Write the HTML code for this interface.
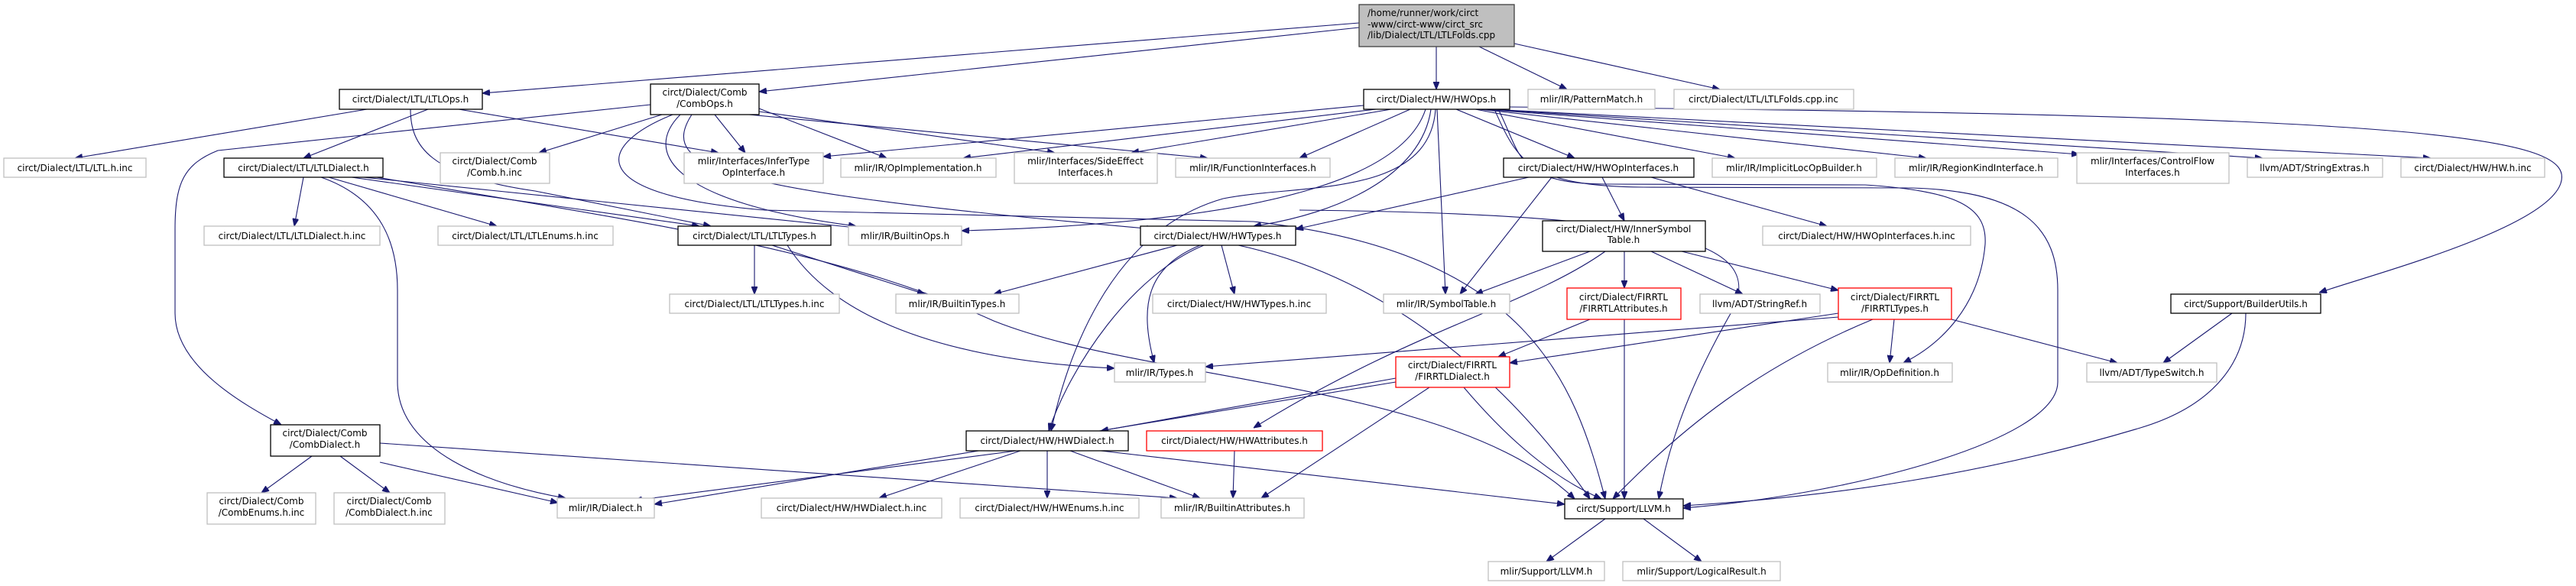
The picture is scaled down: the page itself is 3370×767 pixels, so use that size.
<!DOCTYPE html>
<html><head><meta charset="utf-8"><style>
html,body{margin:0;padding:0;background:#fff;}
svg{display:block;}
text{font-family:"DejaVu Sans","Liberation Sans",sans-serif;font-size:12px;fill:#000;}
.g{fill:#fff;stroke:#bfbfbf;stroke-width:1.3}
.b{fill:#fff;stroke:#000;stroke-width:1.3}
.r{fill:#fff;stroke:#ff0000;stroke-width:1.3}
.e{fill:none;stroke:#191970;stroke-width:1.1}
</style></head><body>
<svg width="3370" height="767" viewBox="0 0 3370 767" xmlns="http://www.w3.org/2000/svg">
<defs><marker id="a" viewBox="0 0 10 8" refX="10" refY="4" markerWidth="10" markerHeight="8" markerUnits="userSpaceOnUse" orient="auto"><path d="M0,0 L10,4 L0,8 z" fill="#191970" stroke="#191970"/></marker></defs>
<g class="e" marker-end="url(#a)">
<path d="M1778,30 L631,122"/>
<path d="M1778,36 L993,120"/>
<path d="M1879,61 L1879,117"/>
<path d="M1935,61 L2050,117"/>
<path d="M1981,57 L2250,117"/>
<path d="M480,143 L98,207"/>
<path d="M560,143 L397,207"/>
<path d="M600,143 L940,200"/>
<path d="M537,143 C537,190 560,230 700,250 L930,296"/>
<path d="M851,137 L285,197 C240,215 229,240 229,300 L229,410 C229,480 320,530 368,556"/>
<path d="M866,150 L705,200"/>
<path d="M935,150 L975,200"/>
<path d="M993,142 L1160,207"/>
<path d="M993,146 L1380,200"/>
<path d="M980,150 L1580,207"/>
<path d="M890,150 C840,200 880,265 1120,296"/>
<path d="M905,150 C860,220 940,250 1510,300"/>
<path d="M880,150 C780,190 760,255 1000,275 L1640,290 C2000,330 2060,500 2100,653"/>
<path d="M1784,138 L1077,205"/>
<path d="M1800,143 L1260,207"/>
<path d="M1820,143 L1480,200"/>
<path d="M1845,143 L1700,207"/>
<path d="M1865,143 C1840,220 1700,290 1258,302"/>
<path d="M1872,143 C1860,230 1750,280 1640,296"/>
<path d="M1878,143 C1870,260 1700,240 1600,260 C1460,300 1400,450 1375,564"/>
<path d="M1880,143 L1891,385"/>
<path d="M1905,143 L2060,207"/>
<path d="M1930,143 L2270,207"/>
<path d="M1935,143 L2520,207"/>
<path d="M1940,143 L2720,202"/>
<path d="M1945,143 L2960,207"/>
<path d="M1950,143 L3180,207"/>
<path d="M1960,143 C1990,200 1980,240 2100,241 L2440,242 C2560,250 2600,270 2597,320 C2590,400 2540,450 2490,475"/>
<path d="M1955,143 C1985,210 2000,244 2150,245 L2500,246 C2650,250 2692,300 2692,380 L2692,500 C2692,580 2400,650 2202,665"/>
<path d="M1975,140 C3200,150 3370,180 3350,240 C3330,300 3100,360 3034,383"/>
<path d="M2030,232 L1910,385"/>
<path d="M2096,232 L2125,289"/>
<path d="M2160,232 L2390,296"/>
<path d="M2000,232 L1695,300"/>
<path d="M1700,275 C2200,280 2300,320 2270,400 C2200,520 2180,600 2170,653"/>
<path d="M2080,329 L1930,385"/>
<path d="M2125,329 L2125,377"/>
<path d="M2160,329 L2280,385"/>
<path d="M2200,329 L2405,380"/>
<path d="M2100,329 C2000,400 1850,430 1640,560"/>
<path d="M1540,321 L1300,385"/>
<path d="M1598,321 L1615,385"/>
<path d="M1570,321 C1500,350 1490,400 1510,475"/>
<path d="M1575,321 C1480,360 1400,480 1372,564"/>
<path d="M1620,321 C1800,360 1960,480 2080,653"/>
<path d="M397,232 L385,296"/>
<path d="M430,232 L650,296"/>
<path d="M460,232 L915,296"/>
<path d="M420,232 C500,260 520,320 520,380 L520,500 C520,590 640,635 740,652"/>
<path d="M475,232 L1120,298"/>
<path d="M493,232 C900,300 1100,330 1300,420 C1500,500 1900,500 2060,653"/>
<path d="M987,321 L987,385"/>
<path d="M1010,321 L1210,385"/>
<path d="M1030,321 C1080,400 1200,470 1458,482"/>
<path d="M2080,418 L1960,467"/>
<path d="M2125,418 L2125,653"/>
<path d="M2405,410 L1975,475"/>
<path d="M2405,415 L1577,480"/>
<path d="M2478,418 L2472,475"/>
<path d="M2553,418 L2770,475"/>
<path d="M2450,418 C2300,480 2200,560 2110,653"/>
<path d="M1826,495 L1440,564"/>
<path d="M1826,500 L856,660"/>
<path d="M1870,507 L1650,652"/>
<path d="M1915,507 C1960,560 2020,620 2095,653"/>
<path d="M1330,590 L830,655"/>
<path d="M1335,590 L1150,652"/>
<path d="M1370,590 L1370,652"/>
<path d="M1400,590 L1570,652"/>
<path d="M1440,590 L2047,660"/>
<path d="M1615,590 L1613,652"/>
<path d="M408,597 L342,645"/>
<path d="M445,597 L510,645"/>
<path d="M497,605 L730,658"/>
<path d="M497,580 L1540,652"/>
<path d="M2100,679 L2023,735"/>
<path d="M2150,679 L2226,735"/>
<path d="M2920,410 L2830,475"/>
<path d="M2938,410 C2938,470 2900,530 2800,560 C2600,620 2400,650 2202,662"/>
</g>
<rect x="1778" y="6" width="203" height="55" fill="#bfbfbf" stroke="#404040" stroke-width="1.3"/>
<text x="1789" y="21">/home/runner/work/circt</text>
<text x="1789" y="36">-www/circt-www/circt_src</text>
<text x="1789" y="50">/lib/Dialect/LTL/LTLFolds.cpp</text>
<g text-anchor="middle">
<rect class="b" x="444" y="117" width="187" height="26"/><text x="537" y="134">circt/Dialect/LTL/LTLOps.h</text>
<rect class="b" x="851" y="110" width="142" height="40"/><text x="922" y="125">circt/Dialect/Comb</text><text x="922" y="140">/CombOps.h</text>
<rect class="b" x="1784" y="117" width="191" height="26"/><text x="1879" y="134">circt/Dialect/HW/HWOps.h</text>
<rect class="g" x="1999" y="117" width="166" height="26"/><text x="2082" y="134">mlir/IR/PatternMatch.h</text>
<rect class="g" x="2190" y="117" width="235" height="26"/><text x="2307" y="134">circt/Dialect/LTL/LTLFolds.cpp.inc</text>

<rect class="g" x="5" y="207" width="186" height="25"/><text x="98" y="224">circt/Dialect/LTL/LTL.h.inc</text>
<rect class="b" x="293" y="207" width="208" height="25"/><text x="397" y="224">circt/Dialect/LTL/LTLDialect.h</text>
<rect class="g" x="576" y="200" width="143" height="40"/><text x="647" y="215">circt/Dialect/Comb</text><text x="647" y="230">/Comb.h.inc</text>
<rect class="g" x="895" y="200" width="182" height="40"/><text x="986" y="215">mlir/Interfaces/InferType</text><text x="986" y="230">OpInterface.h</text>
<rect class="g" x="1100" y="207" width="203" height="25"/><text x="1201" y="224">mlir/IR/OpImplementation.h</text>
<rect class="g" x="1327" y="200" width="187" height="40"/><text x="1420" y="215">mlir/Interfaces/SideEffect</text><text x="1420" y="230">Interfaces.h</text>
<rect class="g" x="1538" y="207" width="202" height="25"/><text x="1639" y="224">mlir/IR/FunctionInterfaces.h</text>
<rect class="b" x="1967" y="207" width="249" height="25"/><text x="2091" y="224">circt/Dialect/HW/HWOpInterfaces.h</text>
<rect class="g" x="2240" y="207" width="215" height="25"/><text x="2347" y="224">mlir/IR/ImplicitLocOpBuilder.h</text>
<rect class="g" x="2479" y="207" width="213" height="25"/><text x="2585" y="224">mlir/IR/RegionKindInterface.h</text>
<rect class="g" x="2717" y="200" width="199" height="40"/><text x="2816" y="215">mlir/Interfaces/ControlFlow</text><text x="2816" y="230">Interfaces.h</text>
<rect class="g" x="2940" y="207" width="177" height="25"/><text x="3028" y="224">llvm/ADT/StringExtras.h</text>
<rect class="g" x="3141" y="207" width="188" height="25"/><text x="3235" y="224">circt/Dialect/HW/HW.h.inc</text>

<rect class="g" x="267" y="296" width="230" height="25"/><text x="382" y="313">circt/Dialect/LTL/LTLDialect.h.inc</text>
<rect class="g" x="573" y="296" width="229" height="25"/><text x="687" y="313">circt/Dialect/LTL/LTLEnums.h.inc</text>
<rect class="b" x="887" y="296" width="200" height="25"/><text x="987" y="313">circt/Dialect/LTL/LTLTypes.h</text>
<rect class="g" x="1110" y="296" width="148" height="25"/><text x="1184" y="313">mlir/IR/BuiltinOps.h</text>
<rect class="b" x="1492" y="296" width="203" height="25"/><text x="1593" y="313">circt/Dialect/HW/HWTypes.h</text>
<rect class="b" x="2018" y="289" width="213" height="40"/><text x="2124" y="304">circt/Dialect/HW/InnerSymbol</text><text x="2124" y="318">Table.h</text>
<rect class="g" x="2306" y="296" width="272" height="25"/><text x="2442" y="313">circt/Dialect/HW/HWOpInterfaces.h.inc</text>

<rect class="g" x="876" y="385" width="222" height="25"/><text x="987" y="402">circt/Dialect/LTL/LTLTypes.h.inc</text>
<rect class="g" x="1172" y="385" width="161" height="25"/><text x="1252" y="402">mlir/IR/BuiltinTypes.h</text>
<rect class="g" x="1508" y="385" width="227" height="25"/><text x="1621" y="402">circt/Dialect/HW/HWTypes.h.inc</text>
<rect class="g" x="1810" y="385" width="165" height="25"/><text x="1892" y="402">mlir/IR/SymbolTable.h</text>
<rect class="r" x="2050" y="377" width="149" height="41"/><text x="2124" y="393">circt/Dialect/FIRRTL</text><text x="2124" y="408">/FIRRTLAttributes.h</text>
<rect class="g" x="2224" y="385" width="157" height="25"/><text x="2302" y="402">llvm/ADT/StringRef.h</text>
<rect class="r" x="2405" y="377" width="148" height="41"/><text x="2479" y="393">circt/Dialect/FIRRTL</text><text x="2479" y="408">/FIRRTLTypes.h</text>
<rect class="b" x="2840" y="385" width="196" height="25"/><text x="2938" y="402">circt/Support/BuilderUtils.h</text>

<rect class="g" x="1458" y="475" width="119" height="25"/><text x="1517" y="492">mlir/IR/Types.h</text>
<rect class="r" x="1826" y="467" width="149" height="40"/><text x="1900" y="482">circt/Dialect/FIRRTL</text><text x="1900" y="497">/FIRRTLDialect.h</text>
<rect class="g" x="2391" y="475" width="163" height="25"/><text x="2472" y="492">mlir/IR/OpDefinition.h</text>
<rect class="g" x="2730" y="475" width="170" height="25"/><text x="2815" y="492">llvm/ADT/TypeSwitch.h</text>

<rect class="b" x="354" y="556" width="143" height="41"/><text x="425" y="571">circt/Dialect/Comb</text><text x="425" y="586">/CombDialect.h</text>
<rect class="b" x="1264" y="564" width="212" height="26"/><text x="1370" y="581">circt/Dialect/HW/HWDialect.h</text>
<rect class="r" x="1500" y="564" width="230" height="26"/><text x="1615" y="581">circt/Dialect/HW/HWAttributes.h</text>

<rect class="g" x="271" y="645" width="142" height="41"/><text x="342" y="660">circt/Dialect/Comb</text><text x="342" y="675">/CombEnums.h.inc</text>
<rect class="g" x="437" y="645" width="145" height="41"/><text x="509" y="660">circt/Dialect/Comb</text><text x="509" y="675">/CombDialect.h.inc</text>
<rect class="g" x="729" y="652" width="127" height="26"/><text x="792" y="669">mlir/IR/Dialect.h</text>
<rect class="g" x="996" y="652" width="236" height="26"/><text x="1114" y="669">circt/Dialect/HW/HWDialect.h.inc</text>
<rect class="g" x="1256" y="652" width="234" height="26"/><text x="1373" y="669">circt/Dialect/HW/HWEnums.h.inc</text>
<rect class="g" x="1519" y="652" width="187" height="26"/><text x="1612" y="669">mlir/IR/BuiltinAttributes.h</text>
<rect class="b" x="2047" y="653" width="155" height="26"/><text x="2124" y="670">circt/Support/LLVM.h</text>

<rect class="g" x="1947" y="735" width="152" height="25"/><text x="2023" y="752">mlir/Support/LLVM.h</text>
<rect class="g" x="2123" y="735" width="206" height="25"/><text x="2226" y="752">mlir/Support/LogicalResult.h</text>
</g>
</svg>
</body></html>
